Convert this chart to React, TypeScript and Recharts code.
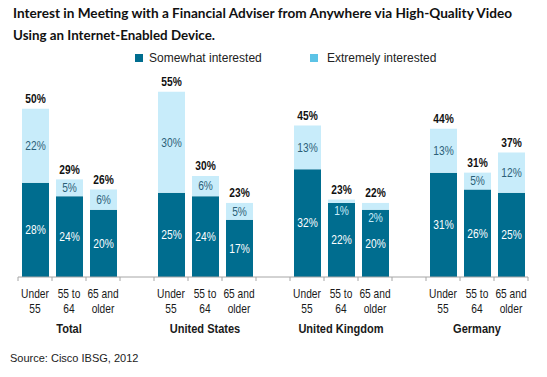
import React from 'react';
import { BarChart, Bar, XAxis, YAxis, LabelList, Legend } from 'recharts';

const groups = ['Total', 'United States', 'United Kingdom', 'Germany'];
const ageBands = [['Under', '55'], ['55 to', '64'], ['65 and', 'older']];
const somewhat = [[28, 24, 20], [25, 24, 17], [32, 22, 20], [31, 26, 25]];
const extremely = [[22, 5, 6], [30, 6, 5], [13, 1, 2], [13, 5, 12]];
const totals = [[50, 29, 26], [55, 30, 23], [45, 23, 22], [44, 31, 37]];
const seriesNames = ['Somewhat interested', 'Extremely interested'];

type Row = {
  key: string;
  age: string[] | null;
  group: string | null;
  somewhat: number | null;
  extremely: number | null;
  total: number | null;
};

const rows: Row[] = [];
groups.forEach((g, gi) => {
  ageBands.forEach((a, ai) => {
    rows.push({
      key: `${g}-${ai}`,
      age: a,
      group: ai === 1 ? g : null,
      somewhat: somewhat[gi][ai],
      extremely: extremely[gi][ai],
      total: totals[gi][ai],
    });
  });
  if (gi < groups.length - 1) {
    rows.push({ key: `gap-${gi}`, age: null, group: null, somewhat: null, extremely: null, total: null });
  }
});

const W = 547;
const H = 377;
const M = { top: 59, right: 19, bottom: 40, left: 18 };
const DARK = '#006d8f';
const LIGHT = '#c8ecfa';
const LEGEND_LIGHT = '#5cc3e6';
const SANS = '"Liberation Sans", Arial, sans-serif';
const HALF = (W - M.left - M.right) / rows.length / 2;
const SQUEEZE = 0.85;

const NText = (props: any) => {
  const { x, y, children, size = 12, bold = false, fill = '#1a1a1a', dy } = props;
  return (
    <text
      transform={`translate(${x},${y}) scale(${SQUEEZE},1)`}
      x={0}
      y={0}
      dy={dy}
      textAnchor="middle"
      fontFamily={SANS}
      fontSize={size}
      fontWeight={bold ? 'bold' : 'normal'}
      fill={fill}
    >
      {children}
    </text>
  );
};

const CategoryTick = (props: any) => {
  const { x, y, index } = props;
  const row = rows[index];
  const last = index === rows.length - 1;
  return (
    <g>
      <line x1={x - HALF} x2={x - HALF} y1={y} y2={y + 4} stroke="#a6a6a6" />
      {last && <line x1={x + HALF} x2={x + HALF} y1={y} y2={y + 4} stroke="#a6a6a6" />}
      {row && row.age && <NText x={x} y={y + 21}>{row.age[0]}</NText>}
      {row && row.age && <NText x={x} y={y + 36}>{row.age[1]}</NText>}
      {row && row.group && (
        <NText x={x} y={y + 56} size={13} bold>
          {row.group}
        </NText>
      )}
    </g>
  );
};

const box = (p: any) => {
  const vb = p.viewBox && p.viewBox.width !== undefined ? p.viewBox : p;
  return { x: Number(vb.x), y: Number(vb.y), w: Number(vb.width), h: Number(vb.height) };
};

const DarkLabel = (p: any) => {
  if (p.value === null || p.value === undefined) return null;
  const { x, y, w, h } = box(p);
  return (
    <NText x={x + w / 2} y={y + h / 2} dy="0.36em" fill="#ffffff">
      {`${p.value}%`}
    </NText>
  );
};

const LightLabel = (p: any) => {
  if (p.value === null || p.value === undefined) return null;
  const { x, y, w, h } = box(p);
  const small = p.value < 3;
  const cy = small ? y + h + 8 : y + h / 2;
  return (
    <NText x={x + w / 2} y={cy} dy="0.36em" fill={small ? LIGHT : '#2b5f78'}>
      {`${p.value}%`}
    </NText>
  );
};

const TotalLabel = (p: any) => {
  if (p.value === null || p.value === undefined) return null;
  const { x, y, w } = box(p);
  return (
    <NText x={x + w / 2} y={y - 10} dy="0.36em" bold fill="#111111">
      {`${p.value}%`}
    </NText>
  );
};

const LegendContent = () => (
  <div style={{ position: 'relative', width: W, height: 16, fontFamily: SANS, fontSize: 12, color: '#222' }}>
    <div style={{ position: 'absolute', left: 135, top: 4, width: 8, height: 8, background: DARK }} />
    <div style={{ position: 'absolute', left: 149, top: 1, lineHeight: '14px' }}>{seriesNames[0]}</div>
    <div style={{ position: 'absolute', left: 310, top: 4, width: 8, height: 8, background: LEGEND_LIGHT }} />
    <div style={{ position: 'absolute', left: 327, top: 1, lineHeight: '14px' }}>{seriesNames[1]}</div>
  </div>
);

export default function App() {
  return (
    <div style={{ position: 'absolute', left: 0, top: 0, width: W, height: H, background: '#fff' }}>
      <svg width={W} height={44} style={{ position: 'absolute', left: 0, top: 0 }}>
        <text x={13} y={18} fontFamily="Lato, 'Open Sans', sans-serif" fontWeight="bold" fontSize={14} fill="#111" textLength={499} lengthAdjust="spacingAndGlyphs">
          Interest in Meeting with a Financial Adviser from Anywhere via High-Quality Video
        </text>
        <text x={13} y={40} fontFamily="Lato, 'Open Sans', sans-serif" fontWeight="bold" fontSize={14} fill="#111" textLength={202} lengthAdjust="spacingAndGlyphs">
          Using an Internet-Enabled Device.
        </text>
      </svg>
      <div style={{ position: 'absolute', left: 0, top: 0 }}>
        <BarChart width={W} height={H} data={rows} margin={M} barSize={27}>
          <XAxis
            dataKey="key"
            interval={0}
            tickSize={0}
            tickMargin={0}
            tickLine={false}
            axisLine={{ stroke: '#a6a6a6' }}
            tick={<CategoryTick />}
            height={60}
          />
          <YAxis hide domain={[0, 60]} />
          <Legend
            verticalAlign="top"
            height={16}
            wrapperStyle={{ top: 50, left: 0 }}
            content={<LegendContent />}
          />
          <Bar dataKey="somewhat" name={seriesNames[0]} stackId="a" fill={DARK} isAnimationActive={false}>
            <LabelList dataKey="somewhat" content={<DarkLabel />} />
          </Bar>
          <Bar dataKey="extremely" name={seriesNames[1]} stackId="a" fill={LIGHT} isAnimationActive={false}>
            <LabelList dataKey="extremely" content={<LightLabel />} />
            <LabelList dataKey="total" content={<TotalLabel />} />
          </Bar>
        </BarChart>
      </div>
      <div style={{ position: 'absolute', left: 10, top: 352, fontFamily: SANS, fontSize: 11, color: '#222', whiteSpace: 'nowrap' }}>
        Source: Cisco IBSG, 2012
      </div>
    </div>
  );
}
